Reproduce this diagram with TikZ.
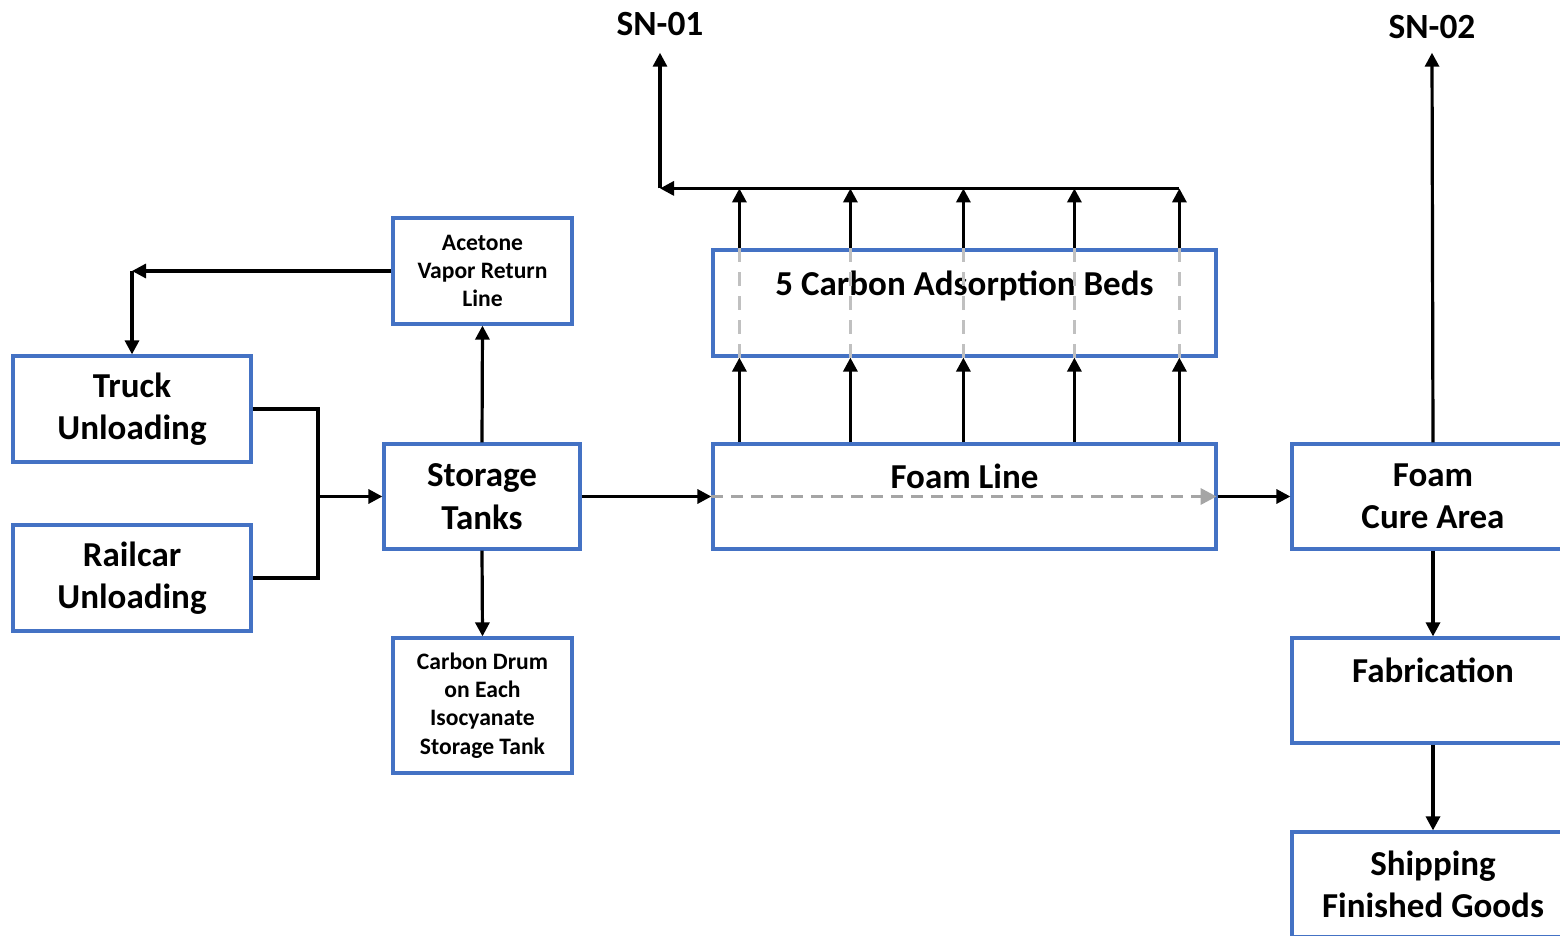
\documentclass[tikz,border=0pt]{standalone}
\usepackage{fontspec}
\setmainfont{Carlito}
\usetikzlibrary{arrows.meta,calc}
\definecolor{boxblue}{HTML}{4472C4}
\definecolor{dgray}{HTML}{A5A5A5}
\definecolor{lgray}{HTML}{C0C0C0}
\newcommand{\upby}[2]{\raisebox{#1}[\height][\depth]{#2}}
\tikzset{
  box/.style={draw=boxblue, line width=1.6pt, fill=white, align=center, inner sep=0pt,
    font=\bfseries\fontsize{17.5}{21.2}\selectfont},
  smallbox/.style={box, font=\bfseries\fontsize{11.8}{14.2}\selectfont},
  arr/.style={line width=1.6pt, -{Triangle[length=7pt,width=7pt]}},
  plain/.style={line width=1.6pt},
  flowdash/.style={dgray, line width=1.6pt, dash pattern=on 6pt off 4pt, -{Triangle[length=8pt,width=8pt]}},
  beddash/.style={lgray, line width=1.4pt, dash pattern=on 7pt off 5pt},
  snlabel/.style={inner sep=0pt, font=\bfseries\fontsize{17.7}{20}\selectfont}
}
\begin{document}
\begin{tikzpicture}[x=0.5pt,y=-0.5pt]
\clip (0,0) rectangle (1560,936);
\fill[white] (0,0) rectangle (1560,936);
% boxes
\node[box, minimum width=119pt, minimum height=53pt] (truck) at (132,409) {Truck\\Unloading};
\node[box, minimum width=119pt, minimum height=53pt] (rail) at (132,578) {Railcar\\Unloading};
\node[box, minimum width=98pt, minimum height=52.5pt] (store) at (482,496.5) {Storage\\Tanks};
\node[smallbox, minimum width=89.5pt, minimum height=53pt] (acet) at (482.5,271) {Acetone\\Vapor Return\\Line};
\node[smallbox, minimum width=89.5pt, minimum height=67.5pt] (drum) at (482.5,705.5) {Carbon Drum\\on Each\\Isocyanate\\Storage Tank};
\node[box, minimum width=251.5pt, minimum height=53pt] (beds) at (964.5,303) {\upby{8.5pt}{5 Carbon Adsorption Beds}};
\node[box, minimum width=251.5pt, minimum height=52.5pt] (foam) at (964.5,496.5) {\upby{10pt}{Foam Line}};
\node[box, minimum width=141pt, minimum height=52.5pt] (cure) at (1433,496.5) {Foam\\Cure Area};
\node[box, minimum width=141pt, minimum height=52.5pt] (fab) at (1433,690.5) {\upby{10pt}{Fabrication}};
\node[box, minimum width=141pt, minimum height=52.5pt] (ship) at (1433,884.5) {Shipping\\Finished Goods};
\node[snlabel, outer sep=8.5pt] (sn1) at (660,24) {SN-01};
\node[snlabel, outer sep=7pt] (sn2) at (1432,27) {SN-02};
% left side connectors
\coordinate (j) at (318,496.5);
\draw[plain] (truck.east) -| (j) |- (rail.east);
\draw[arr] (j) -- (store.west);
\draw[arr] (store.north) -- (acet.south);
\draw[arr] (store.south) -- (drum.north);
\coordinate (ac) at (truck.north |- acet.west);
\draw[arr] (acet.west) -- (ac);
\draw[arr] (ac) -- (truck.north);
\draw[arr] (store.east) -- (foam.west);
\draw[flowdash] (foam.west) -- ($(foam.east)+(-1,0)$);
\draw[arr] (foam.east) -- (cure.west);
\draw[arr] (cure.north) -- (sn2.south);
\draw[arr] (cure.south) -- (fab.north);
\draw[arr] (fab.south) -- (ship.north);
% bed columns
\foreach \i/\dx in {1/28,2/139,3/252,4/363,5/468}{
  \coordinate (c\i) at ($(beds.south west)+(\dx,0)$);
  \coordinate (t\i) at ($(beds.north west)+(\dx,-60)$);
  \draw[arr] (c\i |- foam.north) -- (c\i);
  \draw[beddash] (c\i) -- (c\i |- beds.north);
  \draw[arr] (c\i |- beds.north) -- (t\i);
}
\coordinate (col) at (sn1.south |- t5);
\draw[plain] (t1) -- (t5);
\draw[arr] (t1) -- (col);
\draw[arr] (col) -- (sn1.south);
\end{tikzpicture}
\end{document}
